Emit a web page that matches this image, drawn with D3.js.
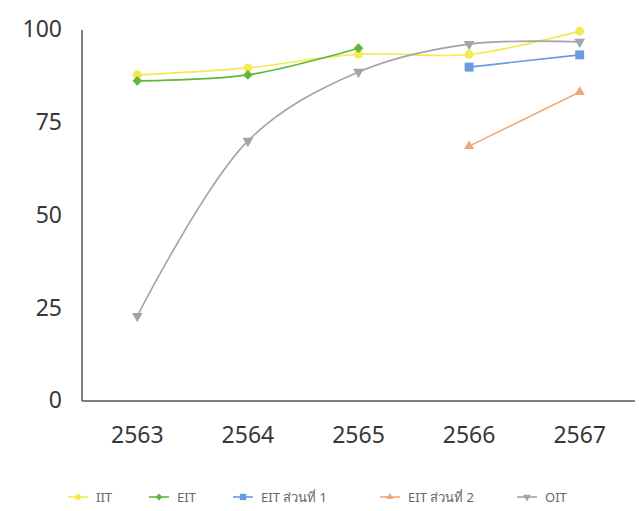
<!DOCTYPE html>
<html>
<head>
<meta charset="utf-8">
<title>chart</title>
<script src="https://cdn.jsdelivr.net/npm/d3@7"></script>
<style>
  body { margin: 0; background: #fff; }
  text { font-family: "Noto Sans", "DejaVu Sans", sans-serif; }
</style>
</head>
<body>
<svg id="svg" width="639" height="511"></svg>
<script>
// data
var years = ["2563", "2564", "2565", "2566", "2567"];
var iit  = [87.9, 89.8, 93.5, 93.4, 99.7];
var eit  = [86.3, 87.9, 95.1, null, null];
var eit1 = [null, null, null, 90.0, 93.3];
var eit2 = [null, null, null, 68.7, 83.3];
var oit  = [22.9, 70.1, 88.7, 96.2, 96.8];
var yTicks = [0, 25, 50, 75, 100];

var names   = ["IIT", "EIT", "EIT ส่วนที่ 1", "EIT ส่วนที่ 2", "OIT"];
var values  = [iit, eit, eit1, eit2, oit];
var colors  = ["#f2ea4e", "#62b63a", "#6a9be0", "#f0a877", "#a3a3ab"];
var diamond = d3.symbolDiamond2 || d3.symbolDiamond;
var symbols = [d3.symbolCircle, diamond, d3.symbolSquare, d3.symbolTriangle, d3.symbolTriangle];
var sizes   = [60, 60, 80, 45, 50];
var rotate  = [0, 0, 0, 0, 180];

var svg = d3.select("#svg");

var x = d3.scaleBand().domain(years).range([82, 635]);
var y = d3.scaleLinear().domain([0, 100]).range([401, 30]);

// axes
var yAxis = svg.append("g").attr("transform", "translate(82,0)")
  .call(d3.axisLeft(y).tickValues(yTicks).tickSize(0).tickPadding(20));
yAxis.select(".domain").remove();
yAxis.selectAll("text").attr("font-size", 23).attr("fill", "#383838").attr("dy", "0.3em");

var xAxis = svg.append("g").attr("transform", "translate(0,401)")
  .call(d3.axisBottom(x).tickSize(0).tickPadding(26));
xAxis.select(".domain").remove();
xAxis.selectAll("text").attr("font-size", 23).attr("fill", "#383838");

svg.append("line").attr("x1", 82).attr("x2", 82).attr("y1", 30).attr("y2", 401)
  .attr("stroke", "#555").attr("stroke-width", 1.5);
svg.append("line").attr("x1", 82).attr("x2", 635).attr("y1", 401).attr("y2", 401)
  .attr("stroke", "#555").attr("stroke-width", 1.5);

// series
var line = d3.line()
  .defined(function(d){ return d != null; })
  .x(function(d, i){ return x(years[i]) + x.bandwidth() / 2; })
  .y(function(d){ return y(d); })
  .curve(d3.curveCatmullRom.alpha(0.5));

values.forEach(function(vals, s){
  svg.append("path").datum(vals)
    .attr("d", line)
    .attr("fill", "none")
    .attr("stroke", colors[s])
    .attr("stroke-width", 1.6);
});

values.forEach(function(vals, s){
  var sym = d3.symbol().type(symbols[s]).size(sizes[s]);
  svg.append("g").selectAll("path")
    .data(vals.map(function(v, i){ return {v: v, i: i}; }).filter(function(d){ return d.v != null; }))
    .enter().append("path")
    .attr("d", sym)
    .attr("fill", colors[s])
    .attr("transform", function(d){
      return "translate(" + (x(years[d.i]) + x.bandwidth() / 2) + "," + y(d.v) + ") rotate(" + rotate[s] + ")";
    });
});

// legend
var legX = [78, 159, 243, 390, 527];
var legend = svg.append("g").attr("transform", "translate(0,497)");
names.forEach(function(n, s){
  var g = legend.append("g").attr("transform", "translate(" + legX[s] + ",0)");
  g.append("line").attr("x1", -10).attr("x2", 10).attr("y1", 0).attr("y2", 0)
    .attr("stroke", colors[s]).attr("stroke-width", 1.6);
  g.append("path").attr("d", d3.symbol().type(symbols[s]).size(sizes[s] * 0.5))
    .attr("fill", colors[s]).attr("transform", "rotate(" + rotate[s] + ")");
  g.append("text").attr("x", 18).attr("y", 5).attr("font-size", 13)
    .attr("fill", "#666").text(n);
});
</script>
</body>
</html>
